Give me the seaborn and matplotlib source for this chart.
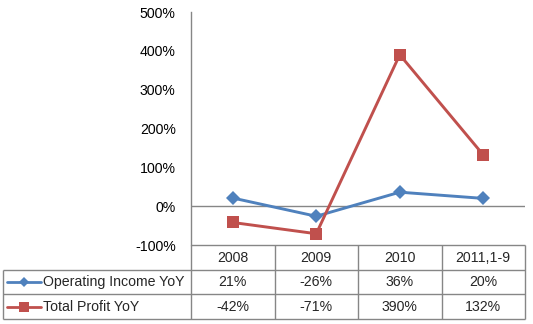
import matplotlib
matplotlib.use("Agg")
import matplotlib.pyplot as plt
import seaborn as sns
import pandas as pd
from matplotlib.lines import Line2D

categories = ["2008", "2009", "2010", "2011,1-9"]
operating_income_yoy = [21, -26, 36, 20]
total_profit_yoy = [-42, -71, 390, 132]
series_names = ["Operating Income YoY", "Total Profit YoY"]
y_ticks = [-100, 0, 100, 200, 300, 400, 500]

sns.set_style("white")
plt.rcParams["font.family"] = ["Liberation Sans", "DejaVu Sans"]

W, H = 533, 324
fig = plt.figure(figsize=(W / 100, H / 100), dpi=100)

GRAY = "#868686"
BLUE = "#4F81BD"
RED = "#C0504D"
FS = 10.2

# plot area in pixels
px0, px1, py0, py1 = 191, 525, 12, 245
ax = fig.add_axes([px0 / W, 1 - py1 / H, (px1 - px0) / W, (py1 - py0) / H])

xpos = list(range(len(categories)))
df = pd.DataFrame({
    "x": xpos * 2,
    "v": operating_income_yoy + total_profit_yoy,
    "s": [series_names[0]] * 4 + [series_names[1]] * 4,
})
sns.lineplot(data=df, x="x", y="v", hue="s", style="s",
             palette={series_names[0]: BLUE, series_names[1]: RED},
             markers={series_names[0]: "D", series_names[1]: "s"},
             dashes=False, linewidth=2.1, markersize=7, markeredgewidth=0,
             legend=False, ax=ax)
for line in ax.get_lines():
    if line.get_marker() == "s":
        line.set_markersize(8)
    elif line.get_marker() == "D":
        line.set_markersize(6.8)

ax.set_xlim(-0.5, len(categories) - 0.5)
ax.set_ylim(y_ticks[0], y_ticks[-1])
ax.set_yticks(y_ticks)
ax.set_yticklabels([f"{t}%" for t in y_ticks], fontsize=FS, color="#000000")
ax.tick_params(axis="y", length=0, pad=11)
ax.set_xticks([])
ax.set_xlabel("")
ax.set_ylabel("")
for side in ["top", "right", "bottom"]:
    ax.spines[side].set_visible(False)
ax.spines["left"].set_color(GRAY)
ax.spines["left"].set_linewidth(1.0)
ax.axhline(0, color=GRAY, linewidth=1.0, zorder=0)
ax.patch.set_alpha(0)

# data table
tx0, tx1, ty0, ty1 = 3, 525, 245, 319
tax = fig.add_axes([tx0 / W, 1 - ty1 / H, (tx1 - tx0) / W, (ty1 - ty0) / H])
unit = (px1 - px0) / len(categories)
left_ext = -0.5 - (px0 - tx0) / unit
tax.set_xlim(left_ext, len(categories) - 0.5)
tax.set_ylim(3, 0)
tax.axis("off")

lk = dict(color=GRAY, linewidth=1.0, solid_capstyle="butt")
tax.plot([-0.5, len(categories) - 0.5], [0, 0], **lk)
for r in [1, 2, 3]:
    tax.plot([left_ext, len(categories) - 0.5], [r, r], **lk)
tax.plot([left_ext, left_ext], [1, 3], **lk)
for c in range(len(categories) + 1):
    tax.plot([c - 0.5, c - 0.5], [0, 3], **lk)
for l in tax.get_lines():
    l.set_clip_on(False)

for i, cat in enumerate(categories):
    tax.text(i, 0.52, cat, ha="center", va="center", fontsize=FS)
    tax.text(i, 1.52, f"{operating_income_yoy[i]}%", ha="center", va="center", fontsize=FS)
    tax.text(i, 2.52, f"{total_profit_yoy[i]}%", ha="center", va="center", fontsize=FS)

key_x0 = left_ext + (7 - tx0) / unit
key_x1 = left_ext + (41 - tx0) / unit
key_xm = (key_x0 + key_x1) / 2
for r, (col, mk, ms, name) in enumerate([(BLUE, "D", 5, series_names[0]),
                                         (RED, "s", 7, series_names[1])]):
    yy = 1.5 + r
    tax.add_line(Line2D([key_x0, key_x1], [yy, yy], color=col, linewidth=2.0, clip_on=False))
    tax.add_line(Line2D([key_xm], [yy], marker=mk, markersize=ms, color=col,
                        markeredgewidth=0, clip_on=False))
    tax.text(left_ext + (43 - tx0) / unit, yy + 0.02, name, ha="left", va="center", fontsize=FS)

fig.savefig("out.png", dpi=100)
